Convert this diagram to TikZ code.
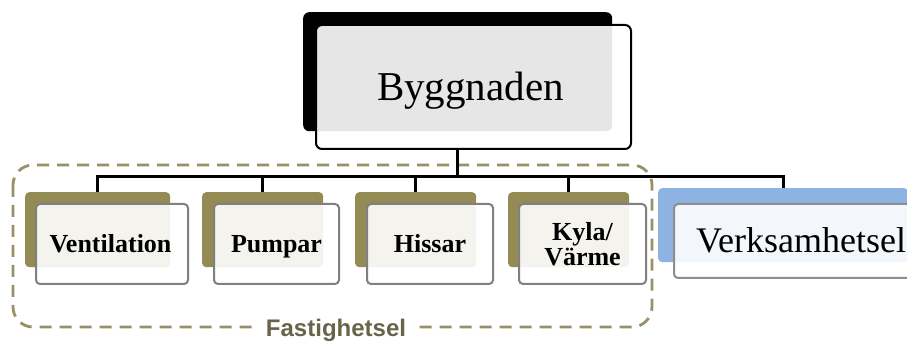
\documentclass[tikz,border=0pt]{standalone}
\usepackage{fontspec}
\setmainfont{Liberation Serif}
\newfontfamily\groupfont{Liberation Sans}
\definecolor{olive}{RGB}{148,138,84}
\definecolor{skyblue}{RGB}{141,179,226}
\definecolor{rimgray}{RGB}{128,128,128}
\definecolor{dashgold}{RGB}{152,145,104}
\definecolor{grouptext}{RGB}{104,100,74}
\tikzset{
  backbox/.style={rectangle, rounded corners=4pt, draw=none, anchor=north west, inner sep=0pt},
  frontbox/.style={rectangle, rounded corners=4pt, anchor=north west, inner sep=0pt,
    fill=white, fill opacity=0.9, text opacity=1, line width=2pt, draw=rimgray, align=center,
    font=\fontsize{26}{25}\selectfont\bfseries, text height=17pt, text depth=0pt},
  conn/.style={line width=3pt, black},
  groupline/.style={line width=2.8pt, dashgold, dash pattern=on 12pt off 8pt, rounded corners=20pt}
}
\begin{document}
\begin{tikzpicture}[x=1pt,y=-1pt]
\useasboundingbox (0,0) rectangle (907,344);

% dashed group frame around the building services
\draw[groupline] (13,165) rectangle (652,327);
\node[fill=white, inner xsep=12pt, inner ysep=2pt, text=grouptext,
      font=\groupfont\bfseries\fontsize{24}{24}\selectfont] (grp) at (336,330) {Fastighetsel};

% top node
\node[backbox, fill=black, rounded corners=6pt, minimum width=309pt, minimum height=119pt] (byggB) at (303,12) {};
\node[frontbox, draw=black, rounded corners=6pt, minimum width=315pt, minimum height=124pt,
      font=\fontsize{41}{41}\selectfont, text height=27pt] (byggF) at (315,24) {Byggnaden\hspace*{6pt}};

% building services
\node[backbox, fill=olive, minimum width=145pt, minimum height=75pt] (ventB) at (25,192) {};
\node[frontbox, minimum width=152pt, minimum height=80pt] (ventF) at (35,203) {Ventilation\hspace*{3pt}};

\node[backbox, fill=olive, minimum width=121pt, minimum height=75pt] (pumpB) at (202,192) {};
\node[frontbox, minimum width=125pt, minimum height=80pt] (pumpF) at (213,203) {Pumpar};

\node[backbox, fill=olive, minimum width=121pt, minimum height=75pt] (hissB) at (355,192) {};
\node[frontbox, minimum width=126pt, minimum height=80pt] (hissF) at (366,203) {Hissar};

\node[backbox, fill=olive, minimum width=121pt, minimum height=75pt] (kylaB) at (508,192) {};
\node[frontbox, minimum width=127pt, minimum height=80pt, text height=, text depth=] (kylaF) at (518,203) {Kyla/\\Värme};

% operations
\node[backbox, fill=skyblue, minimum width=250pt, minimum height=74pt] (verkB) at (658,188) {};
\node[frontbox, minimum width=258pt, minimum height=74pt, draw=rimgray!90,
      font=\fontsize{36}{36}\selectfont, text height=24pt] (verkF) at (673,203) {Verksamhetsel\hspace*{4pt}};

% tree connectors, dropping from below the centre of the top node's back plate
\coordinate (bus) at (0,177);
\coordinate (root) at (byggB.south |- byggF.south);
\draw[conn] (root) -- (root |- bus) -| (ventB.north);
\draw[conn] (root |- bus) -| (pumpB.north);
\draw[conn] (root |- bus) -| (hissB.north);
\draw[conn] (root |- bus) -| (kylaB.north);
\draw[conn] (root |- bus) -| (verkB.north);
\end{tikzpicture}
\end{document}
